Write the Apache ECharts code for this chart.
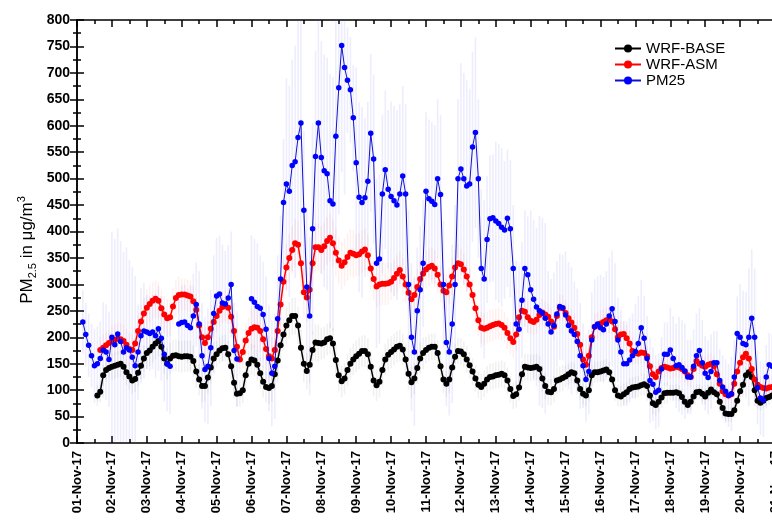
<!DOCTYPE html>
<html>
<head>
<meta charset="utf-8">
<script src="https://cdn.jsdelivr.net/npm/echarts@6/dist/echarts.min.js"></script>
<style>
  html, body { margin: 0; padding: 0; background: #fff; }
  #chart { width: 772px; height: 527px; }
</style>
</head>
<body>
<div id="chart"></div>
<script>
// day labels on the x axis, one per 24 h
var dayLabels = ['01-Nov-17', '02-Nov-17', '03-Nov-17', '04-Nov-17', '05-Nov-17', '06-Nov-17', '07-Nov-17',
  '08-Nov-17', '09-Nov-17', '10-Nov-17', '11-Nov-17', '12-Nov-17', '13-Nov-17', '14-Nov-17', '15-Nov-17',
  '16-Nov-17', '17-Nov-17', '18-Nov-17', '19-Nov-17', '20-Nov-17', '21-Nov-17'];

// values every 2 hours, first value at the given hour after 01-Nov 00:00
var stepHours = 2;
var baseStart = 14;
var wrfBase = [90, 97, 128, 138, 142, 144, 146, 148, 150, 144, 134, 126, 118, 121, 133, 146, 160, 170, 175, 182,
  188, 193, 182, 160, 150, 160, 165, 166, 164, 163, 164, 164, 163, 155, 135, 120, 108, 108, 124, 143,
  160, 168, 175, 179, 180, 168, 145, 114, 93, 94, 100, 128, 150, 158, 156, 148, 132, 116, 106, 104,
  108, 130, 156, 185, 205, 222, 232, 240, 240, 222, 180, 150, 136, 148, 176, 190, 189, 188, 190, 196,
  198, 188, 157, 128, 117, 122, 138, 150, 158, 164, 169, 174, 174, 168, 144, 118, 109, 116, 138, 158,
  167, 172, 177, 182, 184, 177, 158, 131, 115, 122, 142, 160, 170, 176, 180, 182, 182, 170, 145, 120,
  112, 120, 143, 163, 174, 173, 168, 158, 147, 135, 122, 110, 106, 112, 120, 125, 126, 128, 129, 131,
  128, 118, 102, 89, 92, 105, 130, 144, 143, 142, 143, 144, 140, 122, 108, 97, 96, 102, 118, 120,
  123, 126, 130, 134, 132, 118, 102, 93, 90, 100, 128, 134, 134, 135, 137, 139, 134, 120, 100, 90,
  88, 92, 96, 102, 105, 106, 107, 109, 111, 108, 90, 75, 72, 78, 86, 94, 95, 95, 95, 96,
  94, 87, 78, 72, 78, 88, 96, 97, 93, 88, 95, 101, 96, 92, 78, 66, 56, 55, 55, 62,
  80, 98, 110, 128, 134, 125, 100, 80, 76, 80, 85, 87, 90, 92];

var asmStart = 16;
var wrfAsm = [176, 180, 185, 189, 193, 195, 197, 196, 193, 186, 178, 176, 188, 212, 230, 245, 256, 263, 269, 273,
  269, 255, 243, 236, 238, 258, 274, 280, 281, 281, 279, 277, 268, 252, 222, 200, 189, 200, 216, 229,
  240, 250, 257, 260, 256, 239, 212, 182, 158, 172, 194, 208, 216, 219, 218, 212, 196, 178, 164, 160,
  176, 212, 262, 305, 332, 350, 365, 378, 375, 340, 285, 275, 290, 340, 370, 370, 365, 372, 382, 388,
  378, 360, 345, 335, 342, 352, 360, 358, 355, 357, 362, 366, 355, 330, 310, 296, 300, 301, 301, 302,
  305, 312, 320, 327, 315, 300, 284, 272, 280, 295, 310, 320, 328, 333, 335, 330, 318, 300, 288, 285,
  298, 315, 332, 340, 338, 328, 315, 300, 280, 255, 232, 218, 216, 218, 221, 223, 225, 226, 223, 218,
  208, 198, 191, 205, 238, 250, 248, 238, 231, 229, 233, 242, 247, 243, 239, 230, 220, 240, 256, 255,
  246, 236, 228, 218, 206, 186, 158, 148, 165, 200, 220, 222, 226, 229, 232, 233, 230, 215, 200, 205,
  206, 198, 188, 174, 170, 169, 171, 170, 164, 145, 130, 125, 135, 142, 144, 143, 141, 142, 144, 143,
  140, 135, 128, 125, 140, 155, 150, 146, 144, 148, 150, 145, 130, 112, 98, 92, 90, 92, 112, 135,
  152, 162, 169, 160, 140, 120, 110, 106, 104, 103, 105, 106, 106];

var pmStart = 4;
var pm25 = [229, 205, 185, 165, 146, 150, 160, 176, 172, 158, 200, 186, 206, 192, 172, 180, 176, 162, 146, 172,
  203, 212, 210, 207, 210, 203, 216, 198, 168, 150, 145, null, null, 225, 228, 229, 222, 218, 240, 262,
  225, 165, 139, 145, 180, 245, 278, 282, 265, 263, 274, 300, 175, 159, null, null, null, null, 273, 266,
  258, 255, 243, 215, 160, 132, 145, 235, 310, 455, 490, 476, 525, 532, 578, 605, 440, 295, 240, 405,
  542, 605, 540, 515, 509, 458, 452, 580, 672, 752, 710, 686, 668, 615, 530, 465, 455, 464, 495, 586,
  537, 340, 348, 471, 517, 480, 466, 458, 450, 471, 505, 471, 300, 200, 172, 250, 290, 340, 476, 462,
  457, 451, 500, 470, 300, 190, 172, 225, 300, 500, 518, 500, 486, 490, 560, 587, 500, 330, 310, 385,
  424, 426, 420, 415, 408, 403, 425, 405, 330, 225, 215, 270, 330, 318, 290, 272, 257, 250, 246, 236,
  225, 210, 222, 244, 258, 256, 242, 222, 212, 205, 192, 165, 146, 120, 135, 195, 220, 225, 218, 214,
  225, 240, 254, 230, 195, 172, 150, 150, 157, 165, 173, 188, 218, 198, 160, 118, 111, 96, 100, 140,
  168, 168, 176, 160, 146, 148, 143, 136, 125, 125, 145, 165, 175, 152, 132, 124, 135, 152, 152, 118,
  106, 98, 90, 93, 125, 207, 200, 188, 186, 200, 236, 200, 105, 85, 81, 125, 148, 145, 145];

// half-height of the PM25 error bars, read in 6-hour blocks starting at hour 0
var pmErrStep = 6;
var pm25Err = [60, 60, 70, 90, 200, 190, 170, 90, 70, 80, 90, 60, 70, 80, 100, 110,
  110, 100, 90, 80, 120, 100, 100, 120, 200, 220, 150, 200, 220, 240, 240, 100,
  180, 150, 160, 150, 180, 170, 140, 120, 150, 150, 120, 150, 200, 180, 150, 120,
  150, 130, 120, 110, 150, 180, 100, 100, 120, 100, 80, 90, 100, 110, 80, 80,
  90, 80, 70, 60, 80, 90, 70, 80, 70, 60, 60, 70, 100, 130, 70, 60, 60];

// half-height of the model error bars, one value per day
var baseErr = [20, 25, 30, 30, 25, 30, 35, 30, 30, 30, 25, 25, 25, 25, 20, 20, 20, 15, 15, 15, 15];
var asmErr = [25, 30, 35, 30, 30, 40, 45, 45, 40, 35, 35, 30, 30, 25, 25, 25, 20, 20, 20, 20, 20];

var seriesNames = ['WRF-BASE', 'WRF-ASM', 'PM25'];
var seriesColors = ['#000000', '#ff0000', '#0000ff'];
var lineColors = ['#000000', '#ff0000', '#1010d0'];

function toPoints(start, values) {
  return values.map(function (v, i) {
    return [start + i * stepHours, v];
  });
}

function errBars(start, values, errs, errStep) {
  var out = [];
  values.forEach(function (v, i) {
    if (v == null) return;
    var h = start + i * stepHours;
    var e = errs[Math.floor(h / errStep)];
    out.push([h, Math.max(0, v - e), v + e]);
  });
  return out;
}

var labelFont = 'Liberation Sans, Arial, sans-serif';
var axisBlack = { color: '#000', width: 1.5 };

function xAxisCfg(pos) {
  return {
    type: 'value',
    position: pos,
    min: 0,
    max: 480,
    interval: 24,
    axisLine: { show: true, onZero: false, lineStyle: axisBlack },
    axisTick: { show: true, inside: true, length: 7, lineStyle: axisBlack },
    minorTick: { show: true, splitNumber: 2, length: 4, lineStyle: axisBlack },
    splitLine: { show: false },
    axisLabel: pos === 'bottom' ? {
      show: true,
      rotate: 90,
      margin: 8,
      color: '#000',
      fontWeight: 'bold',
      fontSize: 13,
      fontFamily: labelFont,
      showMaxLabel: true,
      hideOverlap: false,
      formatter: function (v) { return dayLabels[Math.round(v / 24)] || ''; }
    } : { show: false }
  };
}

function yAxisCfg(pos) {
  return {
    type: 'value',
    position: pos,
    min: 0,
    max: 800,
    interval: 50,
    axisLine: { show: true, lineStyle: axisBlack },
    axisTick: { show: true, inside: true, length: 7, lineStyle: axisBlack },
    minorTick: { show: true, splitNumber: 2, length: 4, lineStyle: axisBlack },
    splitLine: { show: false },
    axisLabel: pos === 'left' ? {
      show: true,
      margin: 7,
      color: '#000',
      fontWeight: 'bold',
      fontSize: 14,
      fontFamily: labelFont
    } : { show: false }
  };
}

var lineSeries = [
  [baseStart, wrfBase, 6, 1.5],
  [asmStart, wrfAsm, 6, 1.5],
  [pmStart, pm25, 5.5, 1]
].map(function (s, i) {
  return {
    name: seriesNames[i],
    type: 'line',
    data: toPoints(s[0], s[1]),
    symbol: 'circle',
    symbolSize: s[2],
    showSymbol: true,
    showAllSymbol: true,
    color: seriesColors[i],
    lineStyle: { width: s[3], color: lineColors[i] },
    itemStyle: { color: seriesColors[i] },
    z: 3 + i
  };
});

function errSeries(name, data, stroke) {
  return {
    name: name,
    type: 'custom',
    data: data,
    z: 1,
    silent: true,
    clip: true,
    renderItem: function (params, api) {
      var p1 = api.coord([api.value(0), api.value(1)]);
      var p2 = api.coord([api.value(0), api.value(2)]);
      return {
        type: 'line',
        shape: { x1: p1[0], y1: p1[1], x2: p2[0], y2: p2[1] },
        style: { stroke: stroke, lineWidth: 1.6 }
      };
    }
  };
}

var errorSeries = [
  errSeries('base-error', errBars(baseStart, wrfBase, baseErr, 24), 'rgba(0,0,0,0.06)'),
  errSeries('asm-error', errBars(asmStart, wrfAsm, asmErr, 24), 'rgba(255,0,0,0.06)'),
  errSeries('pm25-error', errBars(pmStart, pm25, pm25Err, pmErrStep), 'rgba(110,110,235,0.12)')
];

var myChart = echarts.init(document.getElementById('chart'), null, { renderer: 'canvas' });
var option = {
  animation: false,
  backgroundColor: '#fff',
  grid: { left: 77, top: 20, right: -3, bottom: 84, outerBoundsMode: 'none', containLabel: false },
  legend: {
    data: seriesNames,
    orient: 'vertical',
    left: 609,
    top: 36,
    itemWidth: 26,
    itemHeight: 10,
    itemGap: 1,
    textStyle: { fontSize: 15, color: '#000', fontFamily: labelFont }
  },
  xAxis: [xAxisCfg('bottom'), xAxisCfg('top')],
  yAxis: [yAxisCfg('left'), yAxisCfg('right')],
  graphic: [{
    type: 'text',
    x: 27,
    y: 250,
    rotation: Math.PI / 2,
    style: {
      text: '{a|PM}{b|2.5}{a| in μg/m}{c|3}',
      align: 'center',
      verticalAlign: 'middle',
      fill: '#000',
      rich: {
        a: { fontSize: 17, fontFamily: labelFont, lineHeight: 22 },
        b: { fontSize: 11, fontFamily: labelFont, lineHeight: 12, verticalAlign: 'bottom' },
        c: { fontSize: 11, fontFamily: labelFont, lineHeight: 12, verticalAlign: 'top' }
      }
    }
  }],
  series: errorSeries.concat(lineSeries)
};
myChart.setOption(option);
</script>
</body>
</html>
